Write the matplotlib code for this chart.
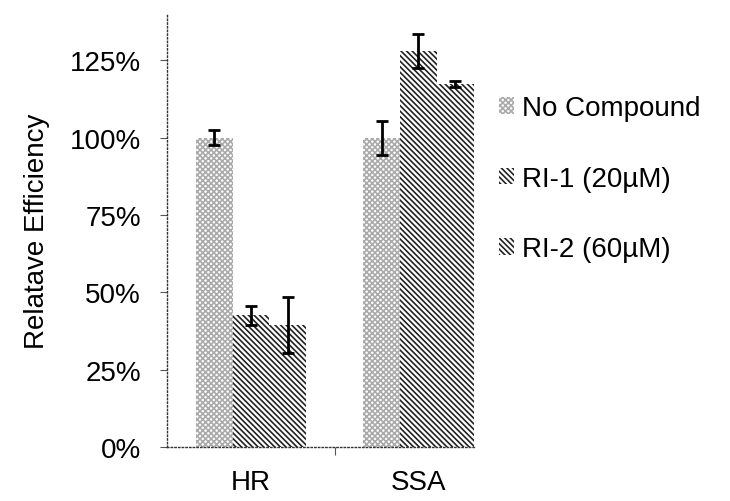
import numpy as np
import matplotlib.pyplot as plt
from matplotlib.ticker import PercentFormatter

plt.rcParams['font.family'] = ['Liberation Sans', 'DejaVu Sans']
plt.rcParams['hatch.linewidth'] = 1.2

categories = ["HR", "SSA"]
series = ["No Compound", "RI-1 (20\u00b5M)", "RI-2 (60\u00b5M)"]
values = [[100, 100], [42.5, 128], [39.3, 117.5]]
errors = [[2.4, 5.5], [3.0, 5.5], [9.0, 1.0]]
hatches = ["xxxxxx", "\\\\\\\\\\\\", "\\\\\\\\\\\\"]
hatch_colors = ["#aaaaaa", "#222222", "#222222"]

fig = plt.figure(figsize=(7.3, 5.02), dpi=100)
ax = fig.add_axes([0.229, 0.108, 0.459, 0.862])

x = np.arange(len(categories))
w = 0.22
for i, name in enumerate(series):
    ax.bar(x + (i - 1) * w, values[i], w, color="white", edgecolor=hatch_colors[i],
           hatch=hatches[i], linewidth=0, label=name)
    ax.errorbar(x + (i - 1) * w, values[i], yerr=errors[i], fmt="none",
                ecolor="black", elinewidth=2, capsize=4, capthick=2)

ax.set_xlim(-0.5, 1.5)
ax.set_ylim(0, 140)
ax.set_yticks([0, 25, 50, 75, 100, 125])
ax.yaxis.set_major_formatter(PercentFormatter(decimals=0))
ax.set_xticks(x)
ax.set_xticklabels(categories)
ax.set_xticks([0.5], minor=True)
ax.tick_params(axis="x", which="major", length=0, pad=16, labelsize=20)
ax.tick_params(axis="x", which="minor", length=6, color="#555555", width=0.8)
ax.tick_params(axis="y", length=5, color="#555555", width=0.8, pad=14, labelsize=20)
ax.set_ylabel("Relatave Efficiency", fontsize=20, labelpad=14)

for s in ["top", "right"]:
    ax.spines[s].set_visible(False)
for s in ["left", "bottom"]:
    ax.spines[s].set_linestyle(":")
    ax.spines[s].set_color("#333333")
    ax.spines[s].set_linewidth(1)
ax.spines["bottom"].set_bounds(-0.5, 1.33)

ax.legend(loc="upper left", bbox_to_anchor=(0.915, 0.87), frameon=False, fontsize=20,
          handlelength=0.55, handleheight=0.55, handletextpad=0.3, labelspacing=1.6)

fig.savefig("out.png", dpi=100)
